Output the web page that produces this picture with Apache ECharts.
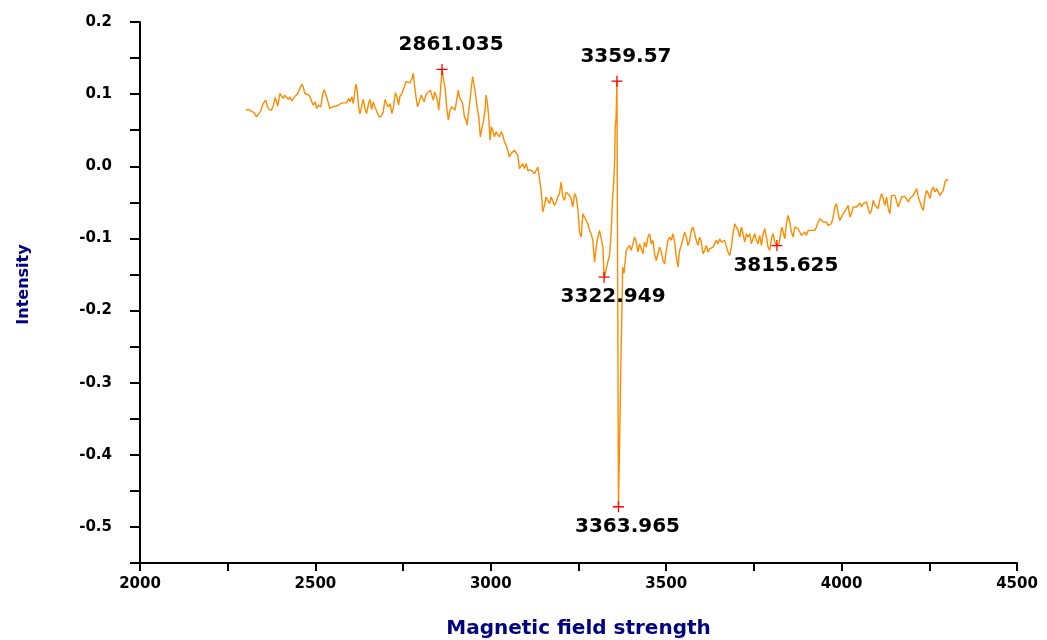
<!DOCTYPE html>
<html>
<head>
<meta charset="utf-8">
<script src="https://cdn.jsdelivr.net/npm/echarts@6/dist/echarts.min.js"></script>
<style>html,body{margin:0;padding:0;background:#fff}#c{width:1047px;height:640px}</style>
</head>
<body>
<div id="c"></div>
<script>
// Magnetic field strength values (x)
const fieldX = [
2301.5,2309.1,2315.8,2320.6,2325.3,2332.0,2337.7,2344.3,2351.0,2358.6,2363.4,2368.1,2374.8,2380.5,2385.2,2389.0,2392.9,2398.6,2404.3,2408.1,
2412.8,2417.6,2423.3,2427.1,2432.8,2437.6,2442.3,2449.0,2455.6,2461.3,2465.2,2469.9,2475.6,2482.3,2487.0,2493.7,2499.4,2503.2,2508.9,2515.6,
2520.3,2525.1,2529.8,2534.6,2541.3,2547.0,2553.6,2560.3,2566.0,2572.6,2579.3,2585.0,2588.8,2594.5,2598.3,2604.0,2607.8,2611.7,2615.5,2619.3,
2623.1,2626.9,2632.6,2636.4,2641.1,2645.9,2651.6,2655.4,2660.2,2664.9,2668.7,2672.5,2677.3,2682.0,2687.8,2693.5,2698.2,2703.0,2707.7,2713.4,
2718.2,2722.9,2727.7,2732.5,2737.2,2741.0,2746.7,2753.4,2758.2,2762.9,2769.6,2775.3,2779.1,
2782.0,2786.7,2791.5,2796.2,2801.0,2805.8,2810.5,2813.4,2817.2,2822.9,2827.6,2832.4,2836.2,2840.0,2843.8,2848.6,2851.4,2855.2,2858.5,2861.035,
2865.7,2870.4,2874.2,2879.0,2883.8,2888.5,2893.3,2898.0,2902.8,2907.5,2910.4,2915.2,2919.9,2924.7,2929.4,2932.3,2936.1,2940.8,2944.6,2948.4,
2952.2,2956.1,2960.8,2965.6,2970.3,2975.1,2978.9,2983.6,2986.5,2990.3,2994.1,2997.9,3001.7,3005.5,3010.3,3015.0,3019.8,3024.6,3029.3,3034.1,
3038.8,3043.6,3048.3,3053.1,3057.9,3062.6,3067.4,3072.1,3076.9,3081.6,3086.4,3091.2,3095.9,3100.7,3105.4,3110.2,3114.9,3119.7,3124.5,3129.2,
3134.0,3138.7,3143.5,3148.2,3153.0,3157.7,3162.5,3167.3,3172.0,3176.8,3181.5,3186.3,3191.0,3195.8,3200.6,3205.3,3210.1,3214.8,3219.6,3224.3,
3229.1,3233.8,3238.6,3243.4,3248.1,3252.9,3257.6,3262.4,3267.1,3271.9,3276.7,3281.4,3286.2,3290.9,3295.7,3300.4,3305.2,3310.0,
3314.7,3319.5,3322.949,3326.0,3330.0,3334.0,3338.5,3343.3,3346.5,3350.0,3352.8,3354.7,3357.0,3358.5,3359.57,3363.965,3371.5,3376.0,3380.0,3383.2,
3386.1,3390.8,3395.6,3400.3,3405.1,3409.9,3414.6,3419.4,3424.1,3428.9,3433.6,3438.4,3443.2,3447.9,3452.7,3457.4,3462.2,3466.9,3471.7,3476.4,
3481.2,3486.0,3490.7,3495.5,3500.2,3505.0,3509.7,3514.5,3519.2,3524.0,3528.8,3533.5,3538.3,3543.0,3547.8,3552.5,3557.3,3562.1,3566.8,3571.6,
3576.3,3581.1,3585.8,3590.6,3595.4,3600.1,3604.9,3609.6,3614.4,3619.1,3623.9,3628.7,3633.4,3638.2,3642.9,3647.7,3652.4,3657.2,3662.0,3666.7,
3671.5,3676.2,3681.0,3685.7,3690.5,3695.2,3700.0,3704.8,3709.5,3714.3,3719.0,3723.8,3728.5,3733.3,3738.1,3742.8,3747.6,3752.3,3757.1,3761.8,
3766.6,3771.4,3776.1,3780.9,3785.6,3790.4,3795.2,3800.0,3804.7,3809.5,3815.625,3821.8,3825.6,3829.4,3833.3,3838.0,3842.8,3847.5,3852.3,3857.0,
3861.8,3866.5,3871.3,3876.1,3880.8,3885.6,3890.3,3895.1,3899.8,3904.6,3909.4,3914.1,3918.9,3923.6,3928.4,3933.1,3937.9,3942.7,3947.4,3952.2,
3956.9,3961.7,3966.4,3971.2,3975.9,3980.7,3985.5,3990.2,3995.0,3999.7,4004.5,4009.2,4014.0,4018.8,4023.5,4028.3,4033.0,4037.8,4042.5,4047.3,
4052.1,4056.8,4061.6,4066.3,4071.1,4075.8,4080.6,4085.4,4090.1,4094.9,4099.6,4104.4,4109.1,4113.9,4118.6,4123.4,4128.2,4132.9,4137.7,4142.4,
4147.2,4151.9,4156.7,4161.5,4166.2,4171.0,4175.7,4180.5,4185.2,4190.0,4194.7,4199.5,4204.3,4209.0,4213.8,4218.5,4223.3,4228.1,4232.8,4237.6,
4242.3,4247.1,4251.8,4256.6,4261.3,4266.1,4270.9,4275.6,4280.4,4285.1,4289.9,4294.6,4299.4,4304.1
];
// Intensity values (y)
const intensityY = [
0.0778,0.0787,0.0768,0.0778,0.0745,0.0685,0.0708,0.0768,0.0870,0.0916,0.0824,0.0787,0.0778,0.0847,0.0953,0.0893,0.0833,0.1009,0.0986,0.0940,
0.0986,0.0972,0.0926,0.0963,0.0907,0.0893,0.0972,0.1000,0.1079,0.1139,0.1102,0.1009,0.1018,0.0986,0.0963,0.0847,0.0893,0.0801,0.0847,0.0824,
0.0986,0.1065,0.1046,0.0916,0.0801,0.0778,0.0833,0.0833,0.0847,0.0870,0.0879,0.0893,0.0879,0.0940,0.0893,0.0963,0.0870,0.1009,0.1139,0.1055,
0.0824,0.0722,0.0847,0.0926,0.0801,0.0731,0.0870,0.0926,0.0787,0.0893,0.0833,0.0824,0.0731,0.0685,0.0694,0.0754,0.0926,0.0870,0.0824,0.0870,
0.0731,0.0824,0.1018,0.0963,0.0847,0.0972,0.1009,0.1102,0.1171,0.1148,0.1157,0.1217,0.1287,
0.1148,0.0963,0.0824,0.0893,0.0986,0.1009,0.0893,0.0963,0.1009,0.1032,0.1055,0.1079,0.0916,0.1032,0.0986,0.0893,0.0777,0.0963,0.1180,0.1343,
0.1194,0.1055,0.0824,0.0639,0.0777,0.0824,0.0801,0.0777,0.0916,0.1055,0.0963,0.0916,0.0870,0.0685,0.0639,0.0569,0.0731,0.0916,0.1102,0.1241,
0.1217,0.1009,0.0824,0.0685,0.0407,0.0546,0.0615,0.0777,0.0986,0.0870,0.0685,0.0361,0.0546,0.0500,0.0407,0.0477,0.0500,0.0407,0.0477,0.0430,
0.0338,0.0291,0.0222,0.0129,0.0176,0.0199,0.0222,0.0245,0.0152,-0.0033,-0.0010,0.0037,-0.0033,0.0037,-0.0056,-0.0033,-0.0056,-0.0033,-0.0102,-0.0125,
-0.0010,0.0013,-0.0334,-0.0635,-0.0542,-0.0426,-0.0473,-0.0519,-0.0426,-0.0403,-0.0542,-0.0496,-0.0426,-0.0380,-0.0218,-0.0426,-0.0473,-0.0357,-0.0380,-0.0403,
-0.0450,-0.0565,-0.0380,-0.0426,-0.0588,-0.0912,-0.0982,-0.0658,-0.0704,-0.0750,-0.0797,-0.0889,-0.0935,-0.1028,-0.1329,-0.1121,-0.0982,-0.0889,
-0.0912,-0.1121,-0.1537,-0.1500,-0.1400,-0.1320,-0.1230,-0.0900,-0.0500,-0.0250,0.0050,0.0550,0.0660,0.0950,0.1180,-0.4720,-0.2560,-0.1400,-0.1480,-0.1306,
-0.1167,-0.1144,-0.1098,-0.1167,-0.1075,-0.0982,-0.1051,-0.1190,-0.1075,-0.1144,-0.1213,-0.1051,-0.1121,-0.0982,-0.0936,-0.1075,-0.1028,-0.1213,-0.1306,-0.1213,
-0.1121,-0.1190,-0.1306,-0.1352,-0.1167,-0.1028,-0.0982,-0.1028,-0.0936,-0.1051,-0.1260,-0.1399,-0.1167,-0.1098,-0.1121,-0.0912,-0.0982,-0.1098,-0.1028,-0.0889,
-0.0843,-0.0936,-0.1028,-0.1098,-0.0982,-0.1051,-0.1213,-0.1167,-0.1098,-0.1190,-0.1144,-0.1167,-0.1121,-0.1098,-0.1028,-0.1075,-0.1005,-0.1051,-0.1075,-0.1028,
-0.1051,-0.1190,-0.1237,-0.1121,-0.0936,-0.0797,-0.0773,-0.0889,-0.0982,-0.0843,-0.0936,-0.1051,-0.0936,-0.0982,-0.0936,-0.1075,-0.1005,-0.0936,-0.1028,-0.1075,
-0.0959,-0.1098,-0.0936,-0.0866,-0.0982,-0.1121,-0.1167,-0.1005,-0.0935,-0.1051,-0.1100,-0.1074,-0.0958,-0.0843,-0.0912,-0.1005,-0.0796,-0.0681,-0.0773,-0.0912,
-0.0982,-0.0843,-0.0820,-0.0866,-0.0912,-0.0958,-0.0935,-0.0912,-0.0958,-0.0889,-0.0866,-0.0889,-0.0866,-0.0889,-0.0843,-0.0773,-0.0727,-0.0750,-0.0773,-0.0796,
-0.0773,-0.0820,-0.0843,-0.0796,-0.0704,-0.0565,-0.0519,-0.0657,-0.0750,-0.0727,-0.0657,-0.0634,-0.0588,-0.0542,-0.0704,-0.0657,-0.0565,-0.0588,-0.0565,-0.0542,
-0.0509,-0.0565,-0.0519,-0.0542,-0.0495,-0.0588,-0.0657,-0.0611,-0.0472,-0.0542,-0.0565,-0.0588,-0.0463,-0.0380,-0.0449,-0.0542,-0.0426,-0.0588,-0.0657,-0.0403,
-0.0426,-0.0403,-0.0426,-0.0565,-0.0542,-0.0426,-0.0403,-0.0417,-0.0426,-0.0495,-0.0449,-0.0426,-0.0403,-0.0357,-0.0310,-0.0426,-0.0495,-0.0565,-0.0611,-0.0426,
-0.0334,-0.0380,-0.0449,-0.0334,-0.0287,-0.0357,-0.0310,-0.0334,-0.0403,-0.0426,-0.0334,-0.0218,-0.0185,-0.0194
];
// Marked peaks
const peakX = [2861.035, 3359.57, 3322.949, 3363.965, 3815.625];
const peakY = [0.1343, 0.118, -0.1537, -0.472, -0.110];
const peakLabels = ['2861.035', '3359.57', '3322.949', '3363.965', '3815.625'];
// Axis ticks
const xTicks = [2000, 2500, 3000, 3500, 4000, 4500];
const yTicks = [0.2, 0.1, 0.0, -0.1, -0.2, -0.3, -0.4, -0.5];

const lineData = fieldX.map((x, i) => [x, intensityY[i]]);
const peakData = peakX.map((x, i) => ({
  value: [x, peakY[i]],
  label: {
    formatter: peakLabels[i],
    position: peakY[i] > 0 ? 'top' : 'bottom',
    offset: peakY[i] > 0 ? [9, -3] : [9, -1]
  }
}));

const chart = echarts.init(document.getElementById('c'), null, { renderer: 'canvas' });
const tickFont = { fontFamily: 'DejaVu Sans', fontWeight: 'bold', fontSize: 15, color: '#000000' };
chart.setOption({
  animation: false,
  backgroundColor: '#ffffff',
  grid: { left: 140, right: 30, top: 22, bottom: 77, containLabel: false, outerBoundsMode: 'none' },
  xAxis: {
    type: 'value', min: 2000, max: 4500, interval: 250,
    name: 'Magnetic field strength', nameLocation: 'middle', nameGap: 56,
    nameTextStyle: { fontFamily: 'DejaVu Sans', fontWeight: 'bold', fontSize: 20, color: '#000080' },
    axisLine: { show: true, onZero: false, lineStyle: { color: '#000', width: 2 } },
    axisTick: { show: true, length: 8, lineStyle: { color: '#000', width: 2 } },
    axisLabel: Object.assign({ margin: 14, formatter: v => xTicks.includes(v) ? String(v) : '' }, tickFont),
    splitLine: { show: false }
  },
  yAxis: {
    type: 'value', min: -0.55, max: 0.2, interval: 0.05,
    name: 'Intensity', nameLocation: 'middle', nameGap: 108,
    nameTextStyle: { fontFamily: 'DejaVu Sans', fontWeight: 'bold', fontSize: 16, color: '#000080',
      padding: [0, 0, 0, 16] },
    axisLine: { show: true, onZero: false, lineStyle: { color: '#000', width: 2 } },
    axisTick: { show: true, length: 10, lineStyle: { color: '#000', width: 2 } },
    axisLabel: Object.assign({ margin: 28, formatter: v => {
      const r = Math.round(v * 10) / 10;
      return yTicks.some(t => Math.abs(t - v) < 1e-6) ? r.toFixed(1) : '';
    } }, tickFont),
    splitLine: { show: false }
  },
  series: [
    {
      type: 'line', data: lineData, showSymbol: false, symbol: 'none',
      lineStyle: { color: '#FF8C00', width: 1.4 }, z: 2
    },
    {
      type: 'scatter', data: peakData,
      symbol: 'path://M0,5L10,5M5,0L5,10', symbolSize: 11,
      itemStyle: { color: 'rgba(0,0,0,0)', borderColor: '#ff0000', borderWidth: 1.3, opacity: 1 },
      label: { show: true, color: '#000000', opacity: 1, textBorderWidth: 0,
        fontFamily: 'DejaVu Sans', fontWeight: 'bold', fontSize: 20 },
      emphasis: { disabled: true },
      z: 5
    }
  ]
});
</script>
</body>
</html>
